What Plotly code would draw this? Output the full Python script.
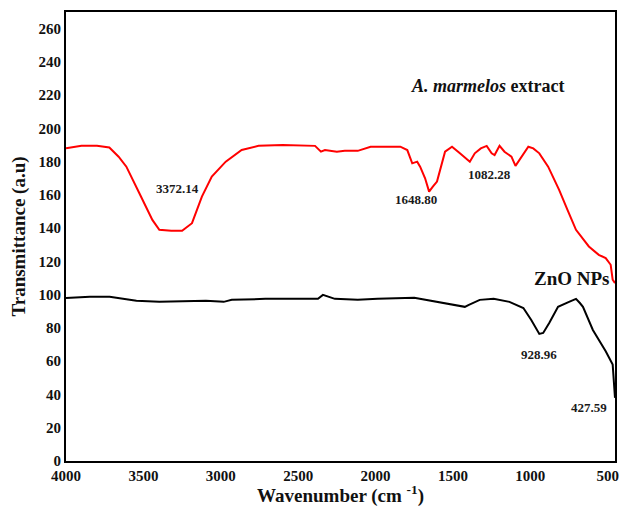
import plotly.graph_objects as go

# A. marmelos extract spectrum (red)
red_x = [4000, 3900, 3800, 3720, 3660, 3610, 3526, 3442, 3397, 3320,
         3250, 3186, 3122, 3058, 2968, 2865, 2756, 2600, 2391, 2353,
         2327, 2250, 2199, 2115, 2032, 1904, 1840, 1795, 1763, 1731,
         1712, 1680, 1654, 1630, 1603, 1551, 1506, 1455, 1391, 1359,
         1320, 1282, 1250, 1231, 1199, 1167, 1122, 1096, 1058, 1013,
         981, 942, 885, 814, 760, 705, 622, 558, 513, 481,
         468, 453]
red_y = [188, 189.5, 189.5, 188.5, 183, 177, 161, 145, 139, 138.4,
         138.4, 143, 159, 171, 180, 187, 189.5, 190, 189.5, 186,
         187, 186, 186.5, 186.5, 189, 189, 189, 187, 179, 180,
         177, 170, 162, 165, 168, 186, 189, 185, 180, 185,
         188, 189.5, 185, 184, 189.5, 186, 183, 177.5, 183, 189,
         188, 185, 177, 163, 151, 139, 129, 124, 122, 118,
         109, 107]

# ZnO NPs spectrum (black)
blk_x = [4000, 3846, 3718, 3545, 3397, 3250, 3096, 2981, 2929, 2712,
         2500, 2372, 2340, 2263, 2115, 1987, 1750, 1603, 1500, 1423,
         1397, 1327, 1237, 1135, 1045, 994, 942, 917, 878, 821,
         750, 705, 680, 660, 596, 513, 468, 462, 453]
blk_y = [98, 98.7, 98.7, 96.3, 95.7, 96, 96.3, 95.7, 96.9, 97.5,
         97.5, 97.5, 99.9, 97.5, 96.9, 97.5, 98.1, 95.7, 94, 92.7,
         93.9, 96.9, 97.5, 95.7, 92, 84.8, 76.4, 77, 83, 92.7,
         95.7, 97.5, 95, 92.7, 78.8, 66, 58, 50, 38]

# peak labels: (text, x, y)
peak_text = ["3372.14", "1648.80", "1082.28", "928.96", "427.59"]
peak_x = [3282, 1737, 1263, 942, 622]
peak_y = [163.7, 157, 172, 64, 32]

x_ticks = [4000, 3500, 3000, 2500, 2000, 1500, 1000, 500]
y_ticks = list(range(0, 261, 20))

FONT = "Liberation Serif"

fig = go.Figure()
fig.add_trace(go.Scatter(x=red_x, y=red_y, mode="lines",
                         line=dict(color="#ff0000", width=2), showlegend=False))
fig.add_trace(go.Scatter(x=blk_x, y=blk_y, mode="lines",
                         line=dict(color="#000000", width=2), showlegend=False))

for t, x, y in zip(peak_text, peak_x, peak_y):
    fig.add_annotation(x=x, y=y, text=f"<b>{t}</b>", showarrow=False,
                       font=dict(family=FONT, size=13, color="#1a1a1a"))

fig.add_annotation(x=1276, y=225.6, text="<b><i>A. marmelos</i> extract</b>",
                   showarrow=False, font=dict(family=FONT, size=18, color="#111"))
fig.add_annotation(x=731, y=109.5, text="<b>ZnO NPs</b>", showarrow=False,
                   font=dict(family=FONT, size=19, color="#111"))

fig.update_layout(
    width=621, height=507,
    margin=dict(l=66, r=2, t=12, b=46),
    paper_bgcolor="white", plot_bgcolor="white",
    font=dict(family=FONT, color="#111"),
)
fig.update_xaxes(
    range=[4000, 453], tickvals=x_ticks,
    ticktext=[f"<b>{v}</b>" for v in x_ticks],
    tickfont=dict(family=FONT, size=15, color="#111"),
    showgrid=False, zeroline=False, ticks="",
    showline=True, linecolor="black", linewidth=2, mirror=True,
    title=dict(text="<b>Wavenumber (cm <sup>-1</sup>)</b>",
               font=dict(family=FONT, size=19, color="#111"), standoff=6),
)
fig.update_yaxes(
    range=[0, 270], tickvals=y_ticks,
    ticktext=[f"<b>{v}</b>" for v in y_ticks],
    tickfont=dict(family=FONT, size=15, color="#111"),
    showgrid=False, zeroline=False, ticks="",
    showline=True, linecolor="black", linewidth=2, mirror=True,
    title=dict(text="<b>Transmittance (a.u)</b>",
               font=dict(family=FONT, size=19, color="#111"), standoff=8),
)

fig.write_html("out.html")
